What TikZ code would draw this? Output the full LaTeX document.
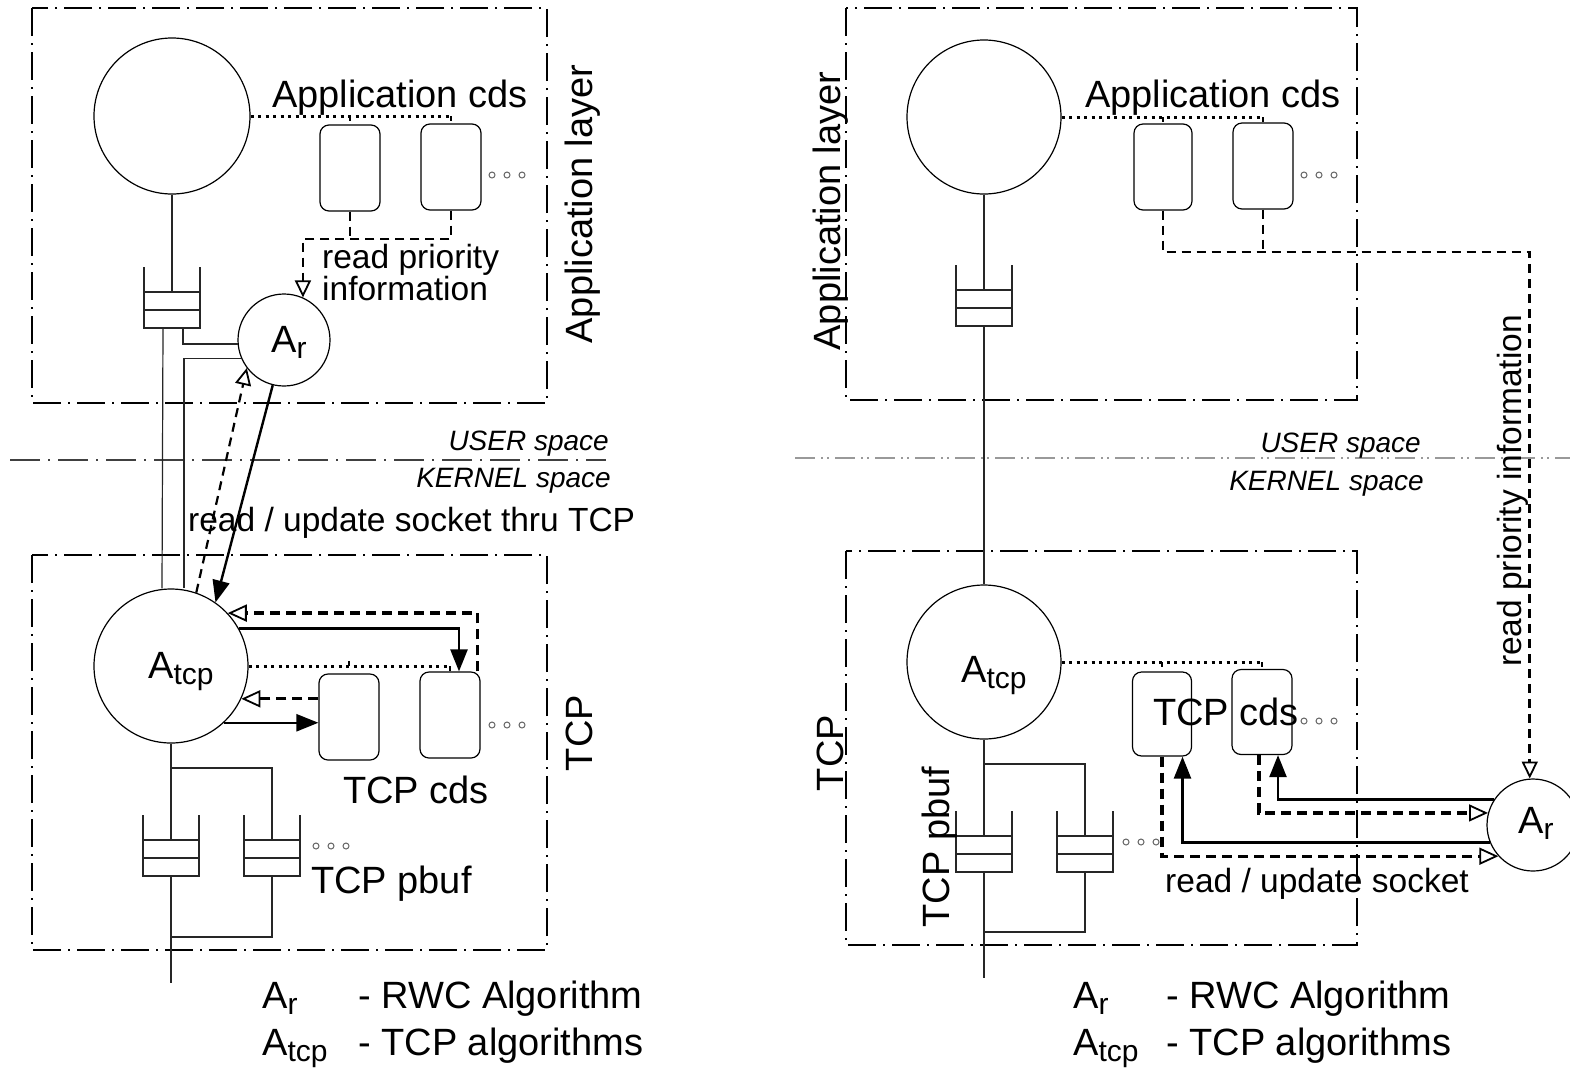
\documentclass[tikz,border=0pt]{standalone}
\usepackage{fontspec}
\setmainfont{Liberation Sans}
\usetikzlibrary{arrows.meta}
\newcommand{\fsz}[1]{\fontsize{#1}{#1}\selectfont}
\newcommand{\Asub}[1]{A\raisebox{-0.18em}{\fsz{30}#1}}
\begin{document}
\begin{tikzpicture}[x=1pt,y=-1pt,
  thinline/.style={line width=1.2pt, black!85},
  layerbox/.style={line width=1.2pt, dash pattern=on 28pt off 7pt on 2pt off 7pt},
  sepL/.style={line width=1.2pt, black!75, dash pattern=on 30pt off 8pt on 2pt off 8pt},
  sepR/.style={line width=1.4pt, black!40, dash pattern=on 20pt off 6pt on 2pt off 4pt on 2pt off 6pt},
  cds/.style={draw, rounded corners=9pt, minimum width=60pt, minimum height=86pt, inner sep=0, line width=1.2pt},
  proc/.style={draw, circle, inner sep=0, line width=1.2pt},
  solidarrow/.style={line width=2.4pt, -{Triangle[length=22pt,width=17pt]}},
  dasharrow/.style={line width=3.2pt, dash pattern=on 10pt off 6pt, -{Triangle[open,length=19pt,width=17pt,line width=1.8pt]}},
  dasharrowthin/.style={line width=2.2pt, dash pattern=on 9pt off 6pt, -{Triangle[open,length=17pt,width=16pt,line width=1.8pt]}},
  thindash/.style={line width=2.2pt, dash pattern=on 9pt off 6pt},
  dotline/.style={line width=3pt, dash pattern=on 3pt off 4.5pt},
  tick/.style={line width=2pt},
  lbl/.style={font=\fsz{38}, inner sep=0},
  mid/.style={font=\fsz{33.5}, inner sep=0},
  sm/.style={font=\fsz{28}\itshape, inner sep=0},
  dotc/.style={draw=black!60, circle, minimum size=6pt, inner sep=0, line width=1pt},
  buffer/.pic={
    \draw[thinline] (-28,-25) -- (-28,36) -- (28,36) -- (28,-25);
    \draw[thinline] (-28,0) -- (28,0) (-28,18) -- (28,18);
    \coordinate (-top) at (0,0);
    \coordinate (-bot) at (0,36);
  }]
\useasboundingbox[fill=white] (0,0) rectangle (1570,1069);

% layer frames
\draw[layerbox] (32,8) rectangle (547,403);
\draw[layerbox] (32,555) rectangle (547,950);
\draw[layerbox] (846,8) rectangle (1357,400);
\draw[layerbox] (846,551) rectangle (1357,945);

% user/kernel separators
\coordinate (sL1) at (10,460);
\coordinate (sL2) at (606,460);
\coordinate (sR1) at (795,458);
\coordinate (sR2) at (1570,458);
\draw[sepL] (sL1) -- (sL2);
\draw[sepR] (sR1) -- (sR2);

% ================= LEFT =================
\node[proc, minimum size=156pt] (appL) at (172,116) {};
\pic (bLt) at (172,292) {buffer};
\node[proc, minimum size=92pt] (ArL) at (284,340) {};
\node[lbl, anchor=base west] (ArLt) at (271,352) {\Asub{r}};
\node[proc, minimum size=154pt] (AtcpL) at (171,666) {};
\node[lbl, anchor=base west] (AtcpLt) at (148,678) {\Asub{tcp}};
\node[cds] (c1Lt) at (350,168) {};
\node[cds] (c2Lt) at (451,167) {};
\node[cds] (c1Lb) at (349,717) {};
\node[cds] (c2Lb) at (450,715) {};
\pic (bLb1) at (171,840) {buffer};
\pic (bLb2) at (272,840) {buffer};

\draw[thinline] (appL.south) -- (bLt-top);
\draw[thinline] ([xshift=-9pt]bLt-bot) -- ([xshift=-9pt]AtcpL.north);
\draw[thinline] ([xshift=11pt]bLt-bot) |- (ArL.185);
\draw[thinline] (ArL.203) -| ([xshift=13pt]AtcpL.north);

\draw[dotline] (appL.east) -- (appL.east -| c2Lt.north);
\draw[tick] (appL.east -| c1Lt.north) -- ++(0,5);
\draw[tick] (appL.east -| c2Lt.north) -- ++(0,5);

\draw[thindash] (c1Lt.south) -- (c1Lt.south |- 0,239);
\draw[dasharrowthin] (c2Lt.south) |- (ArL.66 |- 0,239) -- (ArL.66);

\draw[dasharrowthin] (AtcpL.71) -- (ArL.217);
\draw[solidarrow] (ArL.256) -- (AtcpL.55);

\draw[dasharrow] ([xshift=-3pt]c2Lb.north east) |- (AtcpL.43);
\draw[solidarrow] (AtcpL.29) -| ([xshift=9pt]c2Lb.north);
\draw[dotline] (AtcpL.east) -- (AtcpL.east -| c2Lb.north);
\draw[tick] (AtcpL.east -| c1Lb.north) -- ++(0,-5);
\draw[tick] (AtcpL.east -| c2Lb.north) -- ++(0,5);
\draw[dasharrow] (AtcpL.335 -| c1Lb.west) -- (AtcpL.335);
\draw[solidarrow] (AtcpL.313) -- (AtcpL.313 -| c1Lb.west);

\draw[thinline] (AtcpL.south) -- (bLb1-top);
\draw[thinline] (AtcpL.south |- 0,768) -| (bLb2-top);
\coordinate (endL) at (171,983);
\draw[thinline] (bLb1-bot) -- (endL);
\draw[thinline] (bLb2-bot) |- (bLb1-bot |- 0,937);

\foreach \i in {1,2,3} {
  \node[dotc] (dLt\i) at ({477+15*\i},175) {};
  \node[dotc] (dLb\i) at ({477+15*\i},725) {};
  \node[dotc] (dLp\i) at ({301+15*\i},846) {};
}

\node[lbl, anchor=base west] (appcdsL) at (272,107) {Application cds};
\node[mid, anchor=base west] (rpiL1) at (322,268) {read priority};
\node[mid, anchor=base west] (rpiL2) at (322,300) {information};
\node[lbl, rotate=90, anchor=base] (alayL) at (592,204) {Application layer};
\node[lbl, rotate=90, anchor=base] (tcpL) at (592,733) {TCP};
\node[lbl, anchor=base west] (tcpcdsL) at (343,803) {TCP cds};
\node[lbl, anchor=base west] (pbufL) at (311,893) {TCP pbuf};
\node[sm, anchor=base east] (userL) at (609,450) {USER space};
\node[sm, anchor=base east] (kernL) at (611,487) {KERNEL space};
\node[mid, anchor=base west] (rusL) at (188,531) {read / update socket thru TCP};

\node[lbl, anchor=base west] (legL1a) at (262,1008) {\Asub{r}};
\node[lbl, anchor=base west] (legL1b) at (358,1008) {- RWC Algorithm};
\node[lbl, anchor=base west] (legL2a) at (262,1055) {\Asub{tcp}};
\node[lbl, anchor=base west] (legL2b) at (358,1055) {- TCP algorithms};

% ================= RIGHT =================
\node[proc, minimum size=154pt] (appR) at (984,117) {};
\pic (bRt) at (984,290) {buffer};
\node[proc, minimum size=154pt] (AtcpR) at (984,662) {};
\node[lbl, anchor=base west] (AtcpRt) at (961,682) {\Asub{tcp}};
\node[proc, minimum size=92pt] (ArR) at (1533,825) {};
\node[lbl, anchor=base west] (ArRt) at (1518,833) {\Asub{r}};
\node[cds, minimum width=58pt] (c1Rt) at (1163,167) {};
\node[cds] (c2Rt) at (1263,166) {};
\node[cds, minimum width=59pt, minimum height=84pt] (c1Rb) at (1162,714) {};
\node[cds, minimum height=85pt] (c2Rb) at (1262,712) {};
\pic (bRb1) at (984,836) {buffer};
\pic (bRb2) at (1085,836) {buffer};

\draw[thinline] (appR.south) -- (bRt-top);
\draw[thinline] (bRt-bot) -- (AtcpR.north);
\draw[dotline] (appR.east) -- (appR.east -| c2Rt.north);
\draw[tick] (appR.east -| c1Rt.north) -- ++(0,5);
\draw[tick] (appR.east -| c2Rt.north) -- ++(0,5);
\draw[thindash] (c2Rt.south) -- (c2Rt.south |- 0,252);
\draw[dasharrowthin, line width=2.6pt] (c1Rt.south) |- (ArR.94 |- 0,252) -- (ArR.94);

\draw[dotline] (AtcpR.east) -- (AtcpR.east -| c2Rb.north);
\draw[tick] (AtcpR.east -| c1Rb.north) -- ++(0,5);
\draw[tick] (AtcpR.east -| c2Rb.north) -- ++(0,5);
\draw[solidarrow] (ArR.147) -| ([xshift=16pt]c2Rb.south);
\draw[dasharrow] ([xshift=-3pt]c2Rb.south) |- (ArR.165);
\draw[solidarrow] (ArR.202) -| ([xshift=20.5pt]c1Rb.south);
\draw[dasharrow] (c1Rb.south) |- (ArR.222);

\draw[thinline] (AtcpR.south) -- (bRb1-top);
\draw[thinline] (AtcpR.south |- 0,764) -| (bRb2-top);
\coordinate (endR) at (984,978);
\draw[thinline] (bRb1-bot) -- (endR);
\draw[thinline] (bRb2-bot) |- (bRb1-bot |- 0,932);

\foreach \i in {1,2,3} {
  \node[dotc] (dRt\i) at ({1289+15*\i},175) {};
  \node[dotc] (dRb\i) at ({1289+15*\i},721) {};
  \node[dotc] (dRp\i) at ({1111+15*\i},842) {};
}

\node[lbl, anchor=base west] (appcdsR) at (1085,107) {Application cds};
\node[lbl, rotate=90, anchor=base] (alayR) at (840,211) {Application layer};
\node[lbl, rotate=90, anchor=base] (tcpR) at (843,753) {TCP};
\node[lbl, rotate=90, anchor=base] (pbufR) at (949,847) {TCP pbuf};
\node[lbl, anchor=base west] (tcpcdsR) at (1153,725) {TCP cds};
\node[mid, rotate=90, anchor=base] (rpiR) at (1521,491) {read priority information};
\node[mid, anchor=base west] (rusR) at (1165,892) {read / update socket};
\node[sm, anchor=base east] (userR) at (1421,452) {USER space};
\node[sm, anchor=base east] (kernR) at (1424,490) {KERNEL space};

\node[lbl, anchor=base west] (legR1a) at (1073,1008) {\Asub{r}};
\node[lbl, anchor=base west] (legR1b) at (1166,1008) {- RWC Algorithm};
\node[lbl, anchor=base west] (legR2a) at (1073,1055) {\Asub{tcp}};
\node[lbl, anchor=base west] (legR2b) at (1166,1055) {- TCP algorithms};
\end{tikzpicture}
\end{document}
